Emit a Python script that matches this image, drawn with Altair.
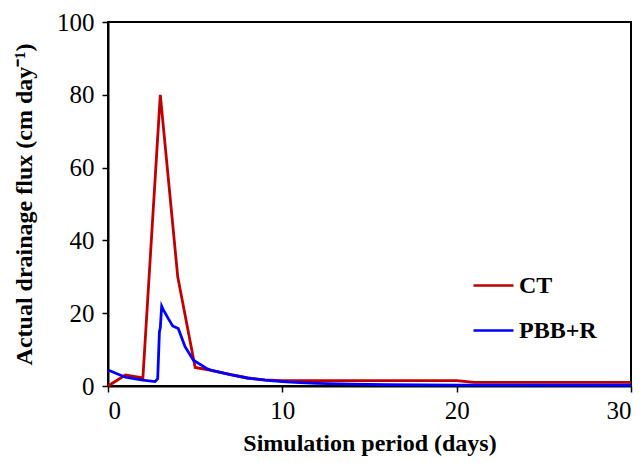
import altair as alt
import pandas as pd

ct_days = [0, 1, 2, 3, 4, 5, 6, 7, 8, 9, 10, 20, 21, 30]
ct_flux = [0, 3.0, 2.2, 80, 30, 5.1, 4.2, 3.2, 2.2, 1.7, 1.5, 1.5, 1.0, 1.0]

pbb_days = [0, 1, 2, 2.7, 2.85, 2.95, 3.0, 3.08, 3.17, 3.46, 3.71, 4.03, 4.42, 4.9, 5.66, 6, 7, 8, 9, 10, 11, 12, 14, 16, 20, 30]
pbb_flux = [4.4, 2.4, 1.6, 1.2, 2.0, 14.9, 16.0, 21.9, 21.0, 18.5, 16.5, 15.8, 10.8, 7.1, 4.8, 4.2, 3.1, 2.2, 1.6, 1.2, 0.9, 0.7, 0.5, 0.35, 0.25, 0.2]

df = pd.concat([
    pd.DataFrame({"day": ct_days, "flux": ct_flux, "series": "CT"}),
    pd.DataFrame({"day": pbb_days, "flux": pbb_flux, "series": "PBB+R"}),
])

FONT = "Liberation Serif"

chart = alt.Chart(df).mark_line(strokeWidth=2.8).encode(
    x=alt.X("day:Q", scale=alt.Scale(domain=[0, 30], nice=False),
            axis=alt.Axis(values=[0, 10, 20, 30], title="Simulation period (days)",
                          titlePadding=8)),
    y=alt.Y("flux:Q", scale=alt.Scale(domain=[0, 100], nice=False),
            axis=alt.Axis(values=[0, 20, 40, 60, 80, 100],
                          title="Actual drainage flux (cm day\u207b\u00b9)",
                          titlePadding=20, labelPadding=8)),
    color=alt.Color("series:N",
                    scale=alt.Scale(domain=["CT", "PBB+R"], range=["#C00000", "#0000FF"]),
                    legend=alt.Legend(title=None, orient="none", legendX=364, legendY=242,
                                      symbolType="stroke", symbolSize=1600, symbolStrokeWidth=2.5,
                                      labelFont=FONT, labelFontSize=24, labelFontWeight="bold",
                                      labelColor="black", rowPadding=11, labelOffset=4)),
    order=alt.Order("day:Q"),
).properties(
    width=523, height=364,
    background="white",
    padding={"left": 100, "top": 14, "right": 5, "bottom": 77},
    autosize=alt.AutoSizeParams(type="none"),
).configure_view(
    stroke="black", strokeWidth=2
).configure_axis(
    domainColor="black", domainWidth=2, tickColor="black", tickWidth=1.5, tickSize=6,
    grid=False, labelFont=FONT, labelFontSize=25, labelColor="black", labelPadding=6,
    titleFont=FONT, titleFontSize=24, titleFontWeight="bold", titleColor="black",
)

chart.save("out.html", embed_options={"renderer": "svg", "actions": False})
